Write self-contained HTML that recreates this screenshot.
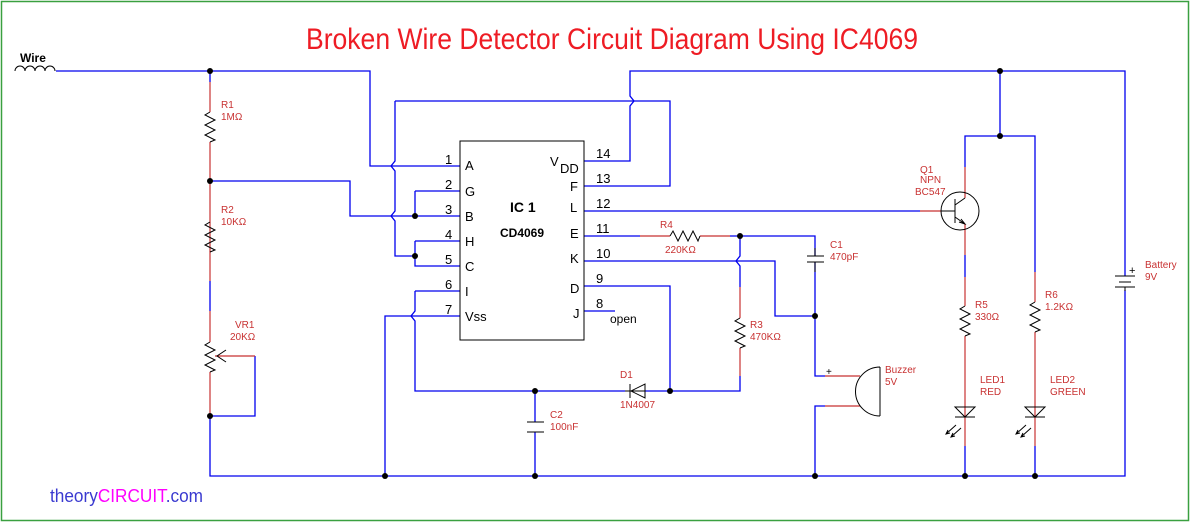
<!DOCTYPE html>
<html><head><meta charset="utf-8"><style>
html,body{margin:0;padding:0;background:#fff;}
svg{display:block;}
text{font-family:"Liberation Sans",sans-serif;}
.r{fill:#c83232;font-size:10px;}
.p{fill:#000;font-size:13px;}
</style></head><body>
<svg width="1191" height="523" viewBox="0 0 1191 523" xmlns="http://www.w3.org/2000/svg">
<rect x="1.5" y="1.5" width="1187" height="519" fill="none" stroke="#3aa040" stroke-width="1.5"/>
<text x="612" y="49" text-anchor="middle" font-size="30" fill="#ee1c24" textLength="612" lengthAdjust="spacingAndGlyphs">Broken Wire Detector Circuit Diagram Using IC4069</text>
<text x="50" y="502" font-size="18" fill="#3a3ad0" textLength="153" lengthAdjust="spacingAndGlyphs">theory<tspan fill="#ff00ff">CIRCUIT</tspan>.com</text>

<text x="20" y="62" font-size="12" font-weight="bold" fill="#000">Wire</text>
<path d="M15,71 a5,5 0 0 1 10,0 a5,5 0 0 1 10,0 a5,5 0 0 1 10,0 a5,5 0 0 1 10,0" fill="none" stroke="#000" stroke-width="1"/>

<g fill="none" stroke="#0000ee" stroke-width="1.3">
<path d="M56,71 H370 V166 H460"/>
<path d="M210,71 V82"/>
<path d="M210,181 H350 V216 H460"/>
<path d="M415,191 H460 M415,191 V216"/>
<path d="M415,241 H460 M415,241 V266 H460"/>
<path d="M395,101 V161 L391,166 L395,171 V211 L391,216 L395,221 V256 H415"/>
<path d="M395,101 H670 V186 H584"/>
<path d="M584,161 H630 V106 L634,101 L630,96 V71 H1125 V262"/>
<path d="M415,291 H460 M415,291 V311 L411,316 L415,321 V391 H625"/>
<path d="M385,476 V316 H460"/>
<path d="M210,281 V311 M210,416 V476 H1125 V306"/>
<path d="M255,356 V416 H210"/>
<path d="M584,211 H920"/>
<path d="M584,236 H640 M730,236 H815 V256 M815,262 V376 H825"/>
<path d="M584,261 H775 V316 H815"/>
<path d="M740,236 V256 L736,261 L740,266 V287 M740,376 V391 H645"/>
<path d="M584,286 H670 V391"/>
<path d="M584,311 H615"/>
<path d="M815,476 V406 H825"/>
<path d="M535,391 V422 M535,432 V476"/>
<path d="M1000,71 V136 M965,167 V136 H1035 V272"/>
<path d="M965,255 V277 M965,446 V476 M1035,446 V476"/>
<path d="M1125,262 V276 M1125,290 V306"/>
</g>

<g fill="none" stroke="#c83232" stroke-width="1.2">
<path d="M210,82 V112 M210,142 V281"/>
<path d="M210,311 V342 M210,372 V416"/>
<path d="M215,356 H255"/>
<path d="M640,236 H670 M700,236 H730"/>
<path d="M740,287 V318 M740,348 V376"/>
<path d="M825,376 H860 M825,406 H860"/>
<path d="M920,211 H941"/>
<path d="M965,167 V198 M965,224 V255 M965,277 V306 M965,336 V446"/>
<path d="M1035,272 V302 M1035,332 V446"/>
</g>

<g fill="none" stroke="#000" stroke-width="1">
<path d="M210,112 L205,115 L215,120 L205,125 L215,130 L205,135 L215,140 L210,142"/>
<path d="M210,222 L205,225 L215,230 L205,235 L215,240 L205,245 L215,250 L210,252"/>
<path d="M210,342 L205,345 L215,350 L205,355 L215,360 L205,365 L215,370 L210,372"/>
<path d="M226,350 L217,356 L226,362"/>
<path d="M670,236 L673,231 L678,241 L683,231 L688,241 L693,231 L698,241 L700,236"/>
<path d="M740,318 L735,321 L745,326 L735,331 L745,336 L735,341 L745,346 L740,348"/>
<path d="M965,306 L960,309 L970,314 L960,319 L970,324 L960,329 L970,334 L965,336"/>
<path d="M1035,302 L1030,305 L1040,310 L1030,315 L1040,320 L1030,325 L1040,330 L1035,332"/>
<path d="M807,256 H824 M807,262 H824 M815,248 V256 M815,262 V272"/>
<path d="M527,422 H544 M527,432 H544"/>
<path d="M625,391 H645 M645,384 V398 L631,391 Z M630,384 V398"/>
<path d="M880,367 V416 M880,367 A24,24 0 0 0 880,416"/>
<circle cx="960" cy="211" r="19"/>
<path d="M955,199 V223 M941,211 H955 M955,205 L965,198 M955,217 L965,224 M961,219 L965,224 L959,222"/>
<path d="M955,407 H975 L965,417 Z M955,417 H975"/>
<path d="M1025,407 H1045 L1035,417 Z M1025,417 H1045"/>
<path d="M956,425 L946,434 M961,428 L951,437 M948,430 L946,434 L950,433 M953,433 L951,437 L955,436"/>
<path d="M1026,425 L1016,434 M1031,428 L1021,437 M1018,430 L1016,434 L1020,433 M1023,433 L1021,437 L1025,436"/>
<path d="M1115,276 H1135 M1119,282 H1131 M1115,287 H1135 M1125,287 V291"/>
<rect x="460" y="141" width="124" height="199"/>
</g>

<g fill="#000">
<circle cx="210" cy="71" r="3"/><circle cx="210" cy="181" r="3"/><circle cx="210" cy="416" r="3"/>
<circle cx="415" cy="216" r="3"/><circle cx="415" cy="256" r="3"/><circle cx="385" cy="476" r="3"/>
<circle cx="535" cy="391" r="3"/><circle cx="535" cy="476" r="3"/><circle cx="670" cy="391" r="3"/>
<circle cx="740" cy="236" r="3"/><circle cx="815" cy="316" r="3"/><circle cx="815" cy="476" r="3"/>
<circle cx="965" cy="476" r="3"/><circle cx="1035" cy="476" r="3"/>
<circle cx="1000" cy="71" r="3"/><circle cx="1000" cy="136" r="3"/>
</g>

<g class="p">
<text x="445" y="164">1</text><text x="445" y="189">2</text><text x="445" y="214">3</text><text x="445" y="239">4</text><text x="445" y="264">5</text><text x="445" y="289">6</text><text x="445" y="314">7</text>
<text x="465" y="170">A</text><text x="465" y="196">G</text><text x="465" y="221">B</text><text x="465" y="246">H</text><text x="465" y="271">C</text><text x="465" y="296">I</text><text x="465" y="321">Vss</text>
<text x="596" y="158">14</text><text x="596" y="183">13</text><text x="596" y="208">12</text><text x="596" y="233">11</text><text x="596" y="258">10</text><text x="596" y="283">9</text><text x="596" y="308">8</text>
<text x="550" y="166">V</text><text x="560" y="173">DD</text>
<text x="570" y="191">F</text><text x="570" y="212">L</text><text x="570" y="238">E</text><text x="570" y="263">K</text><text x="570" y="293">D</text><text x="573" y="318">J</text>
<text x="610" y="323" font-size="12">open</text>
<text x="510" y="212" font-size="14" font-weight="bold">IC 1</text>
<text x="500" y="237" font-size="12" font-weight="bold">CD4069</text>
</g>

<g class="r">
<text x="221" y="108">R1</text><text x="221" y="120">1MΩ</text>
<text x="221" y="213">R2</text><text x="221" y="225">10KΩ</text>
<text x="235" y="328">VR1</text><text x="230" y="340">20KΩ</text>
<text x="660" y="228">R4</text><text x="665" y="253">220KΩ</text>
<text x="750" y="328">R3</text><text x="750" y="340">470KΩ</text>
<text x="830" y="248">C1</text><text x="830" y="260">470pF</text>
<text x="550" y="418">C2</text><text x="550" y="430">100nF</text>
<text x="620" y="378">D1</text><text x="620" y="408">1N4007</text>
<text x="885" y="373">Buzzer</text><text x="885" y="385">5V</text>
<text x="920" y="173">Q1</text><text x="920" y="183">NPN</text><text x="915" y="195">BC547</text>
<text x="975" y="308">R5</text><text x="975" y="320">330Ω</text>
<text x="1045" y="298">R6</text><text x="1045" y="310">1.2KΩ</text>
<text x="980" y="383">LED1</text><text x="980" y="395">RED</text>
<text x="1050" y="383">LED2</text><text x="1050" y="395">GREEN</text>
<text x="1145" y="268">Battery</text><text x="1145" y="280">9V</text>
</g>
<text x="826" y="375" font-size="10" fill="#000">+</text>
<text x="1129" y="274" font-size="11" fill="#000">+</text>
</svg>
</body></html>
